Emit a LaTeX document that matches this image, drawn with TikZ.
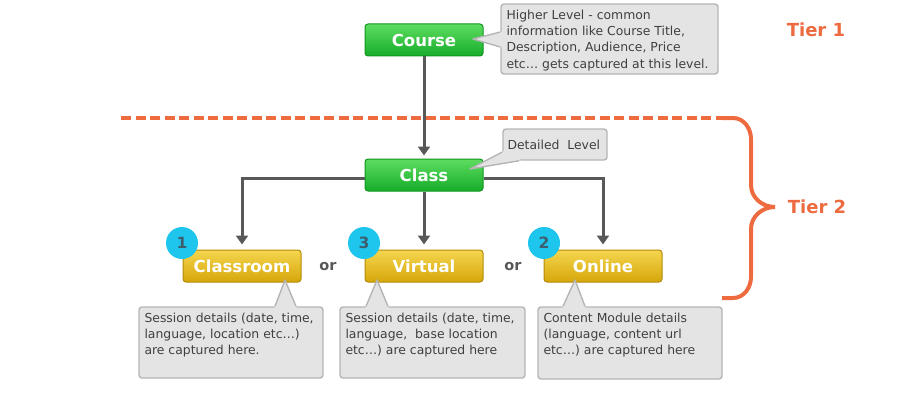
\documentclass[tikz,border=0pt]{standalone}
\usepackage{fontspec}
\setmainfont{DejaVu Sans}
\usetikzlibrary{calc}
\usetikzlibrary{arrows.meta}
\usetikzlibrary{positioning}

\definecolor{vertH}{HTML}{5EDD60}
\definecolor{vertB}{HTML}{16AC2A}
\definecolor{vertT}{HTML}{10961F}
\definecolor{orH}{HTML}{F5D64E}
\definecolor{orB}{HTML}{D6A60A}
\definecolor{orT}{HTML}{B38B08}
\definecolor{cyan1}{HTML}{1EC5EC}
\definecolor{chiffre}{HTML}{3E5E70}
\definecolor{gris}{HTML}{585858}
\definecolor{fondB}{HTML}{E4E4E4}
\definecolor{bordB}{HTML}{B5B5B5}
\definecolor{texteB}{HTML}{404040}
\definecolor{orange1}{HTML}{EE6A3F}

% bulle : nom, centre, largeur, hauteur, texte
\newcommand{\Bulle}[6][]{%
    \node[bulle,minimum width=#4,minimum height=#5] (#2) at (#3) {};
    \node[textebulle,anchor=north west,#1] (#2-t) at (#2.north west) {#6};
}
% pointe de bulle : base a, base b, pointe
\newcommand{\Pointe}[3]{%
    \fill[fondB] ($(#1)!-2pt!(#3)$) -- (#3) -- ($(#2)!-2pt!(#3)$) -- cycle;
    \draw[bordB,line width=1.4pt,line join=round] (#1) -- (#3) -- (#2);
}

\begin{document}
\begin{tikzpicture}[x=1pt,y=1pt,
    boite/.style={rectangle,rounded corners=3pt,minimum width=118pt,minimum height=32pt,line width=1pt,text=white,font=\fontsize{16.5}{18}\selectfont\bfseries},
    vert/.style={boite,draw=vertT,top color=vertH,bottom color=vertB},
    jaune/.style={boite,draw=orT,top color=orH,bottom color=orB},
    bulle/.style={rectangle,rounded corners=3pt,draw=bordB,fill=fondB,line width=1.4pt},
    textebulle/.style={inner xsep=6pt,inner ysep=6.5pt,align=left,text=texteB,font=\fontsize{12.4}{16.2}\selectfont},
    fleche/.style={draw=gris,line width=3pt,-{Triangle[width=12pt,length=9pt]}},
    pastille/.style={circle,fill=cyan1,minimum size=32pt,inner sep=0pt,text=chiffre,font=\fontsize{15.5}{15}\selectfont\bfseries},
    ou/.style={text=gris,font=\fontsize{14.5}{15}\selectfont\bfseries},
    tier/.style={text=orange1,font=\fontsize{18}{20}\selectfont\bfseries}]
\useasboundingbox (0,0) rectangle (900,400);

% separation des niveaux
\draw[orange1,line width=4pt,dash pattern=on 10pt off 4.5pt] (121,282) -- (724,282);
\draw[orange1,line width=4pt,line join=miter] (722,282) -- (733,282) to[out=0,in=90] (751,261)
    -- (751,215) to[out=-90,in=180] (775,193) to[out=180,in=90] (751,171)
    -- (751,123) to[out=-90,in=0] (733,102) -- (722,102);
\node[tier] (tier1) at (816,370) {Tier 1};
\node[tier] (tier2) at (817,193) {Tier 2};

% boites
\node[vert] (cours) at (424,360) {Course};
\node[vert] (classe) at (424,225) {Class};
\node[jaune] (salle) at (242,134) {Classroom};
\node[jaune] (virtuel) at (424,134) {Virtual};
\node[jaune] (ligne) at (603,134) {Online};
\node[ou] (ou1) at (328,133) {or};
\node[ou] (ou2) at (513,133) {or};

\draw[fleche,shorten >=3pt] (cours) -- (classe);
\draw[fleche,shorten >=5pt] ([yshift=-3pt]classe.west) -| (salle);
\draw[fleche,shorten >=5pt] (classe) -- (virtuel);
\draw[fleche,shorten >=5pt] ([yshift=-3pt]classe.east) -| (ligne);

\node[pastille] (p1) at (182,157) {1};
\node[pastille] (p3) at (364,157) {3};
\node[pastille] (p2) at (544,157) {2};

% bulles
\Bulle{bcours}{609.5,361}{217pt}{70pt}{Higher Level - common\\information like Course Title,\\Description, Audience, Price\\etc… gets captured at this level.}
\Pointe{$(bcours.west)+(0,7)$}{$(bcours.west)+(0,-8)$}{473,361}

\Bulle[inner ysep=11.5pt,inner xsep=5pt]{bclasse}{555,255.5}{104pt}{31pt}{Detailed\ \ Level}
\Pointe{$(bclasse.west)+(0,-7.5)$}{$(bclasse.south west)+(17,0)$}{470,231}

\Bulle{bsalle}{231,57.5}{184pt}{71pt}{Session details (date, time,\\language, location etc…)\\are captured here.}
\Pointe{$(bsalle.north)+(44,0)$}{$(bsalle.north)+(65,0)$}{285,120}

\Bulle{bvirtuel}{432.5,57.5}{185pt}{71pt}{Session details (date, time,\\language,\ \ base location\\etc…) are captured here}
\Pointe{$(bvirtuel.north)+(-66.5,0)$}{$(bvirtuel.north)+(-44.5,0)$}{377,120}

\Bulle{bligne}{630,57}{184pt}{72pt}{Content Module details\\(language, content url\\etc…) are captured here}
\Pointe{$(bligne.north)+(-67,0)$}{$(bligne.north)+(-45,0)$}{575,120}

\end{tikzpicture}
\end{document}
